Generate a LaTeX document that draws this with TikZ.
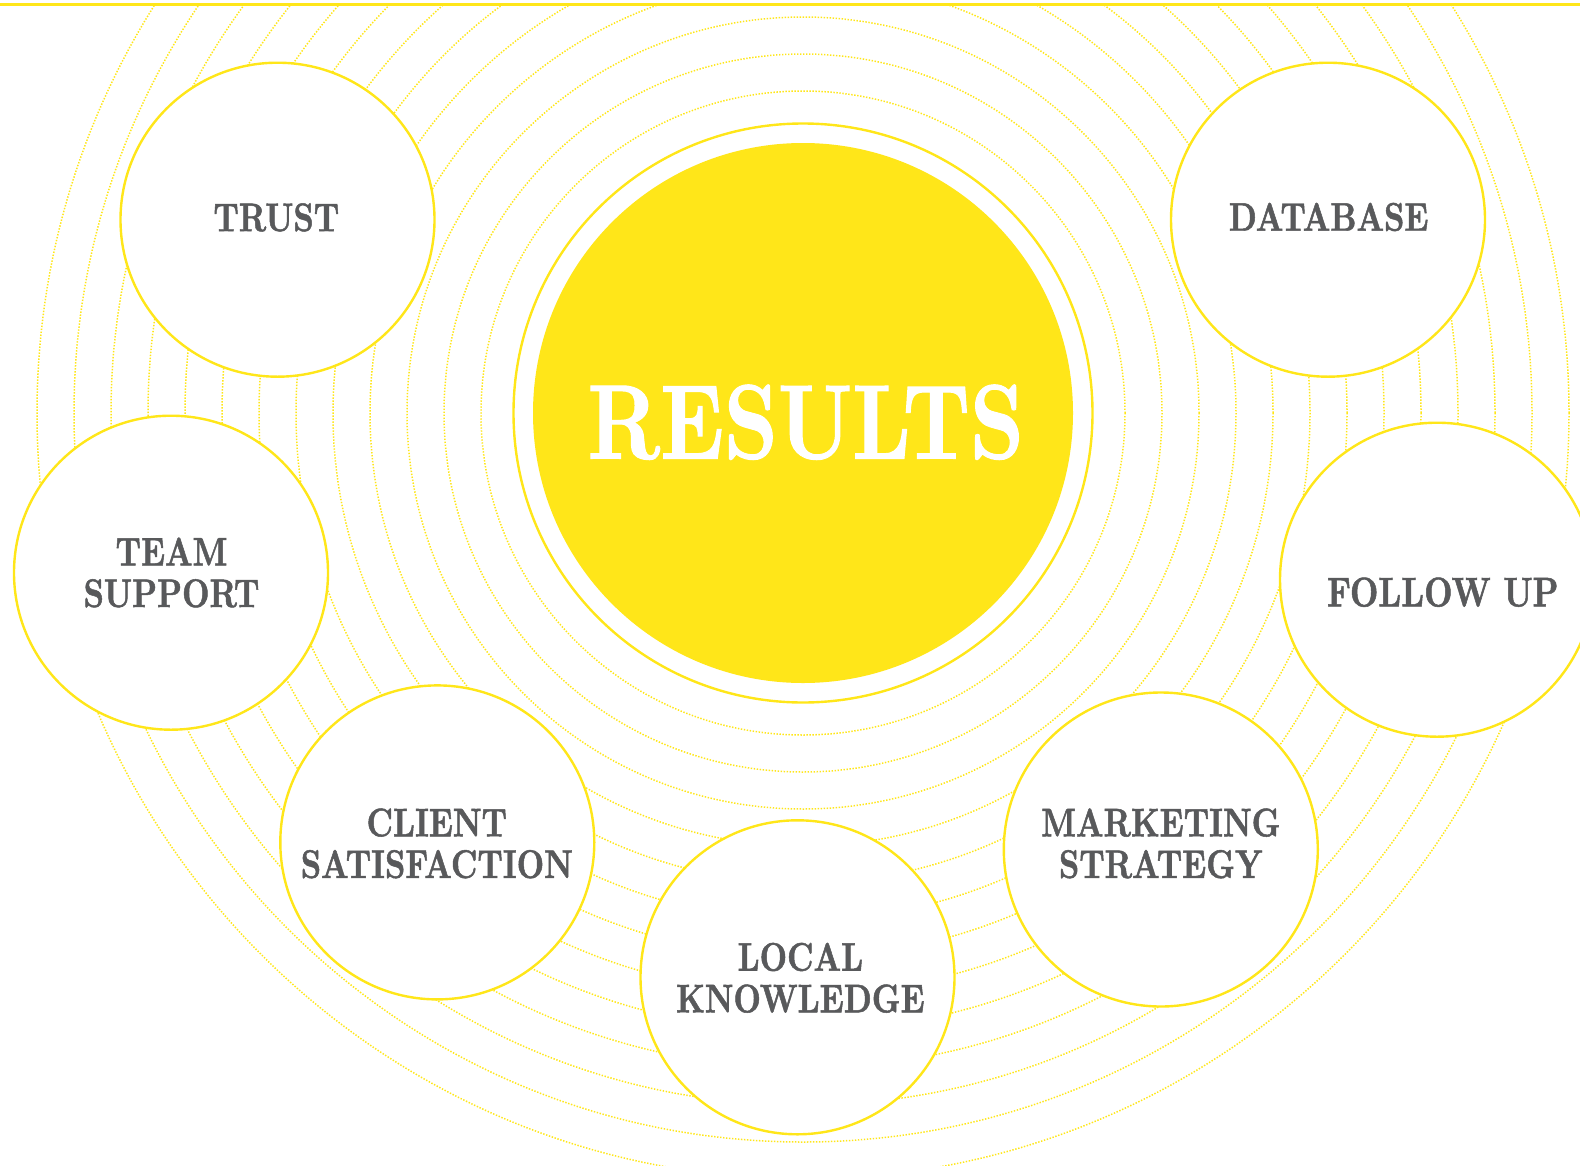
\documentclass[tikz,border=0pt]{standalone}
\usepackage{fontspec}
\newfontfamily\labfont[FakeStretch=0.795, FakeBold=1.2]{lmroman10-bold.otf}
\newfontfamily\resfont[FakeStretch=0.795, FakeBold=1.0]{lmroman10-bold.otf}
\definecolor{ylw}{HTML}{FFE619}
\definecolor{txt}{HTML}{58595B}
\begin{document}
\begin{tikzpicture}[x=1pt,y=-1pt,
  bubble/.style={circle, draw=ylw, line width=2.4pt, fill=white, minimum size=314pt, inner sep=0pt},
  lab/.style={text=txt, font=\labfont\fontsize{40}{41.6}\selectfont, align=center, inner sep=0pt},
  ring/.style={dash pattern=on 1.4pt off 1.6pt, draw=ylw, line width=1.5pt}]
\useasboundingbox (0,0) rectangle (1580,1165);
\clip (0,0) rectangle (1580,1165);
\coordinate (C) at (803,413);
% concentric dotted rings
\begin{scope}
\clip (0,6) rectangle (1580,1165);
\foreach \k in {0,...,12} \draw[ring] (C) circle[radius={322+37*\k}];
\end{scope}
% top rule
\coordinate (tl) at (0,4.5);
\coordinate (tr) at (1580,4.5);
\draw[ylw, line width=3pt] (tl) -- (tr);
% central circle
\node[circle, draw=ylw, line width=2.4pt, fill=white, minimum size=579pt, inner sep=0pt] (ringc) at (C) {};
\node[circle, fill=ylw, minimum size=540pt, inner sep=0pt] (core) at (C) {};
\node[text=white, font=\resfont\fontsize{106}{106}\selectfont, inner sep=0pt] (results) at (805.7,422.2) {RESULTS};
% satellite circles
\node[bubble] (trust) at (277.5,219.7) {};
\node[bubble] (database) at (1328,219.7) {};
\node[bubble] (team) at (171,572.7) {};
\node[bubble] (follow) at (1437,579.7) {};
\node[bubble] (client) at (437.3,842.4) {};
\node[bubble] (marketing) at (1160.8,849.5) {};
\node[bubble] (local) at (797.5,977.3) {};
% labels
\node[lab] (ltrust) at (276.3,217.4) {TRUST};
\node[lab] (ldatabase) at (1328.6,217) {DATABASE};
\node[lab] (lteam) at (171.5,572.5) {TEAM\\SUPPORT};
\node[lab, font=\labfont\fontsize{41.5}{43}\selectfont] (lfollow) at (1442.8,592.2) {FOLLOW UP};
\node[lab] (lclient) at (436.8,843.4) {CLIENT\\SATISFACTION};
\node[lab] (lmarketing) at (1160.8,843.4) {MARKETING\\STRATEGY};
\node[lab] (llocal) at (800.4,977.8) {LOCAL\\KNOWLEDGE};
\end{tikzpicture}
\end{document}
